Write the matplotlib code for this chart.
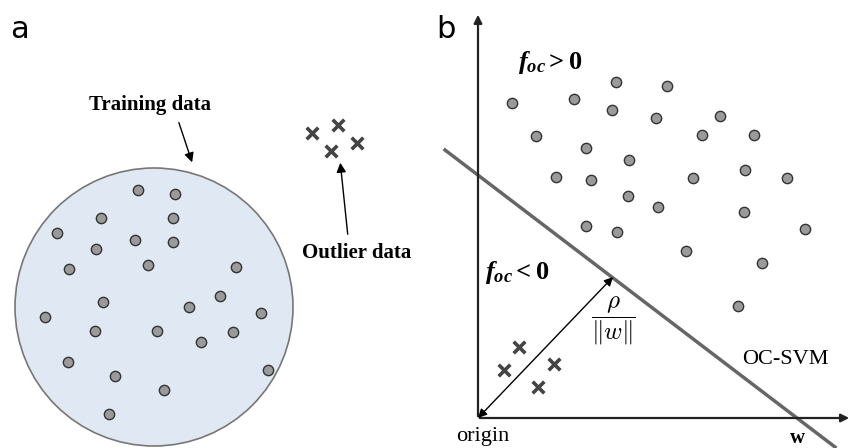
import matplotlib
matplotlib.use('Agg')
import matplotlib.pyplot as plt
from matplotlib.patches import Circle

plt.rcParams['mathtext.fontset'] = 'custom'
plt.rcParams['mathtext.it'] = 'Liberation Serif:italic:bold'
plt.rcParams['mathtext.rm'] = 'Liberation Serif:bold'
plt.rcParams['mathtext.bf'] = 'Liberation Serif:bold'

# panel a: training points inside the circle, outliers outside (canvas units)
train_x = [138, 175, 101, 173, 57, 135, 173, 96, 148, 69, 236, 103, 220,
           189, 45, 261, 95, 157, 233, 201, 68, 115, 268, 164, 109]
train_y = [190, 194, 218, 218, 233, 240, 242, 249, 265, 269, 267, 302, 296,
           307, 317, 313, 331, 331, 332, 342, 362, 376, 370, 390, 414]
out_a_x = [312, 338, 331, 357]
out_a_y = [133, 125, 151, 143]

# panel b: normal points, outliers, decision line
norm_x = [512, 574, 616, 667, 612, 656, 720, 536, 702, 754, 586, 629, 556,
          591, 693, 745, 787, 628, 658, 744, 586, 617, 805, 686, 762, 738]
norm_y = [103, 99, 82, 86, 110, 118, 116, 136, 135, 135, 148, 160, 177,
          180, 178, 170, 178, 196, 207, 212, 226, 232, 229, 251, 263, 306]
out_b_x = [519, 504, 554, 538]
out_b_y = [347, 370, 364, 387]
line_x = [445, 835]
line_y = [150, 447]

origin = (478, 418)

fig = plt.figure(figsize=(8.52, 4.48), dpi=100)
ax = fig.add_axes([0, 0, 1, 1])
ax.set_xlim(0, 852)
ax.set_ylim(448, 0)
ax.axis('off')

dot = dict(s=55, c='#9a9a9a', edgecolors='#333333', linewidths=1.0, zorder=3)
cross = dict(marker='x', s=70, c='#444444', linewidths=2.6, zorder=3)
serif = ['Liberation Serif', 'DejaVu Serif']

# ---- panel a ----
ax.text(20, 30, 'a', fontsize=22, ha='center', va='center', family='DejaVu Sans')
ax.add_patch(Circle((154, 307), 139, facecolor='#dfe8f3', edgecolor='#777777',
                    lw=1.2, zorder=1))
ax.scatter(train_x, train_y, **dot)
ax.scatter(out_a_x, out_a_y, **cross)

ax.text(150, 105, 'Training data', fontsize=15, fontweight='bold',
        ha='center', va='center', family=serif)
ax.annotate('', xy=(193, 165), xytext=(178, 120),
            arrowprops=dict(arrowstyle='-|>', color='black', lw=1.0,
                            mutation_scale=14))
ax.text(357, 253, 'Outlier data', fontsize=15, fontweight='bold',
        ha='center', va='center', family=serif)
ax.annotate('', xy=(340, 160), xytext=(348, 237),
            arrowprops=dict(arrowstyle='-|>', color='black', lw=1.0,
                            mutation_scale=14))

# ---- panel b ----
ax.text(446, 30, 'b', fontsize=22, ha='center', va='center', family='DejaVu Sans')
ax.annotate('', xy=(478, 12), xytext=(478, 419),
            arrowprops=dict(arrowstyle='-|>', color='#222222', lw=1.6,
                            mutation_scale=12))
ax.annotate('', xy=(852, 418), xytext=(477, 418),
            arrowprops=dict(arrowstyle='-|>', color='#222222', lw=1.6,
                            mutation_scale=12))
ax.plot(line_x, line_y, color='#666666', lw=2.5, zorder=2)
ax.annotate('', xy=origin, xytext=(613, 277),
            arrowprops=dict(arrowstyle='<|-|>', color='black', lw=1.0,
                            mutation_scale=13, shrinkA=0, shrinkB=0))

ax.scatter(norm_x, norm_y, **dot)
ax.scatter(out_b_x, out_b_y, **cross)

ax.text(518, 62, r'$f_{oc}>0$', fontsize=19, ha='left', va='center')
ax.text(485, 272, r'$f_{oc}<0$', fontsize=19, ha='left', va='center')
ax.text(613, 321, r'$\dfrac{\rho}{\Vert w\Vert}$', fontsize=18,
        ha='center', va='center', math_fontfamily='cm')
ax.text(785, 360, 'OC-SVM', fontsize=16, ha='center', va='center', family=serif)
ax.text(483, 437, 'origin', fontsize=16, ha='center', va='center', family=serif)
ax.text(797, 438, 'w', fontsize=15, fontweight='bold', ha='center',
        va='center', family=serif)

fig.savefig('out.png', dpi=100)
